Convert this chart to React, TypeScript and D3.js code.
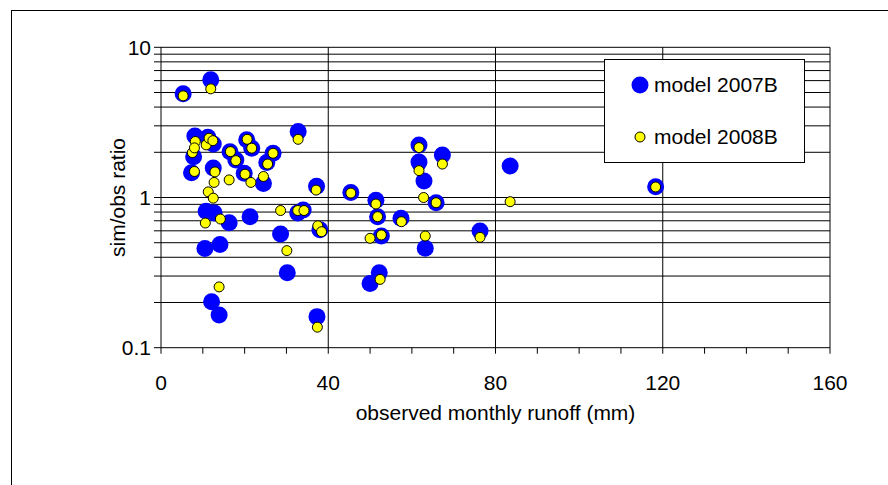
import React from "react";
import * as d3 from "d3";

const xTicks = [0, 40, 80, 120, 160];
const yTickLabels = [
  { v: 0.1, t: "0.1" },
  { v: 1, t: "1" },
  { v: 10, t: "10" },
];
const seriesNames = ["model 2007B", "model 2008B"];

const blueX = [5.3, 11.9, 8.1, 11.2, 12.5, 7.8, 7.3, 12.5, 16.5, 17.9, 20.5, 21.7, 19.9, 24.5, 25.3, 26.8, 32.8, 37.2, 10.8, 12.7, 16.3, 21.3, 10.5, 14.1, 12.1, 13.9, 28.6, 30.2, 32.7, 34.0, 38.0, 37.3, 45.4, 51.4, 51.8, 52.7, 52.2, 50.0, 57.4, 61.7, 61.7, 62.9, 63.2, 65.8, 67.3, 76.3, 83.5, 118.3];
const blueY = [4.9, 6.07, 2.57, 2.52, 2.27, 1.87, 1.46, 1.57, 2.02, 1.78, 2.42, 2.13, 1.45, 1.24, 1.71, 1.97, 2.75, 1.19, 0.81, 0.79, 0.68, 0.745, 0.458, 0.486, 0.202, 0.165, 0.571, 0.315, 0.79, 0.826, 0.61, 0.161, 1.08, 0.96, 0.745, 0.554, 0.315, 0.268, 0.727, 2.24, 1.72, 1.29, 0.46, 0.923, 1.92, 0.598, 1.62, 1.18];

const yellowX = [5.3, 11.9, 8.2, 7.5, 8.0, 10.8, 11.5, 12.4, 8.0, 12.9, 12.7, 16.3, 16.6, 17.9, 11.3, 12.5, 20.6, 21.7, 20.1, 21.5, 24.5, 26.8, 25.5, 32.8, 37.1, 10.6, 14.2, 13.9, 28.6, 32.7, 34.2, 37.5, 38.4, 30.1, 37.4, 45.4, 51.4, 51.8, 57.5, 52.7, 50.0, 52.4, 61.7, 61.7, 62.8, 63.2, 65.8, 67.3, 76.3, 83.5, 118.3];
const yellowY = [4.75, 5.29, 2.36, 1.99, 2.14, 2.24, 2.48, 2.39, 1.49, 1.48, 1.26, 1.31, 2.02, 1.76, 1.09, 0.99, 2.44, 2.13, 1.43, 1.26, 1.38, 1.97, 1.67, 2.44, 1.12, 0.676, 0.719, 0.254, 0.819, 0.819, 0.819, 0.648, 0.592, 0.443, 0.137, 1.07, 0.905, 0.745, 0.69, 0.563, 0.535, 0.285, 2.15, 1.51, 1.0, 0.554, 0.923, 1.67, 0.543, 0.938, 1.175];

const W = 888;
const H = 485;
const L = 161, R = 830, T = 47.3, B = 347.7;
const FONT = "'Liberation Sans', Arial, sans-serif";
const FS = 21;

export default function App() {
  const x = d3.scaleLinear().domain([0, 160]).range([L, R]);
  const y = d3.scaleLog().domain([0.1, 10]).range([B, T]);

  const gridVals: number[] = [];
  for (const dec of [0.1, 1]) {
    for (let k = 1; k <= 10; k++) gridVals.push(+(dec * k).toFixed(3));
  }
  const uniqGrid = Array.from(new Set(gridVals));
  const minorX = d3.range(0, 161, 10);

  const blue = blueX.map((v, i) => [v, blueY[i]]);
  const yellow = yellowX.map((v, i) => [v, yellowY[i]]);

  return (
    <svg width={W} height={H} style={{ position: "absolute", left: 0, top: 0, background: "#fff" }}>
      <rect x={0} y={0} width={W} height={H} fill="#fff" />
      <rect x={11.5} y={10.5} width={W + 20} height={H + 20} fill="none" stroke="#000" strokeWidth={1} />
      {uniqGrid.map((v) => (
        <line key={"g" + v} x1={L - 7} x2={R} y1={y(v)} y2={y(v)} stroke="#000" strokeWidth={1} />
      ))}
      {xTicks.map((v) => (
        <line key={"vx" + v} x1={x(v)} x2={x(v)} y1={T} y2={B} stroke="#000" strokeWidth={1} />
      ))}
      {minorX.map((v) => (
        <line key={"mx" + v} x1={x(v)} x2={x(v)} y1={B} y2={B + 6} stroke="#000" strokeWidth={1} />
      ))}
      {yTickLabels.map((d) => (
        <text key={"yl" + d.t} x={151} y={y(d.v) + 7.5} textAnchor="end" fontFamily={FONT} fontSize={FS} fill="#000">
          {d.t}
        </text>
      ))}
      {xTicks.map((v) => (
        <text key={"xl" + v} x={x(v)} y={390} textAnchor="middle" fontFamily={FONT} fontSize={FS} fill="#000">
          {v}
        </text>
      ))}
      <text x={(L + R) / 2} y={420} textAnchor="middle" fontFamily={FONT} fontSize={FS} fill="#000">
        observed monthly runoff (mm)
      </text>
      <text transform={`translate(125,${y(1)}) rotate(-90)`} textAnchor="middle" fontFamily={FONT} fontSize={FS} fill="#000">
        sim/obs ratio
      </text>
      {blue.map((d, i) => (
        <circle key={"b" + i} cx={x(d[0])} cy={y(d[1])} r={8.5} fill="#0000FF" />
      ))}
      {yellow.map((d, i) => (
        <circle key={"y" + i} cx={x(d[0])} cy={y(d[1])} r={5} fill="#FFFF00" stroke="#000" strokeWidth={1} />
      ))}
      <rect x={604.5} y={59.5} width={200} height={103} fill="#fff" stroke="#000" strokeWidth={1} />
      <circle cx={640} cy={85} r={8.5} fill="#0000FF" />
      <text x={654} y={92} fontFamily={FONT} fontSize={FS} fill="#000">{seriesNames[0]}</text>
      <circle cx={640} cy={137} r={5} fill="#FFFF00" stroke="#000" strokeWidth={1} />
      <text x={654} y={144} fontFamily={FONT} fontSize={FS} fill="#000">{seriesNames[1]}</text>
    </svg>
  );
}
